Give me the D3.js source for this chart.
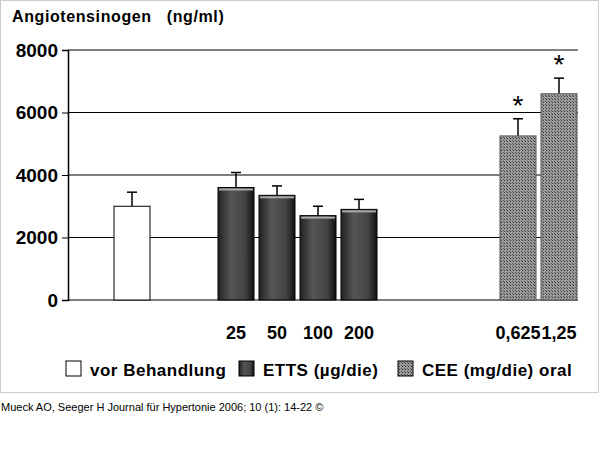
<!DOCTYPE html><html><head><meta charset="utf-8"><script src="https://cdn.jsdelivr.net/npm/d3@7"></script>
<style>body{margin:0;background:#fff}svg{font-family:Arial,"Liberation Sans",sans-serif}</style></head><body><svg width="600" height="454"></svg>
<script>
const categories=["vor","25","50","100","200","0,625","1,25"];
const groups=["vor","etts","etts","etts","etts","cee","cee"];
const values=[3000,3600,3350,2700,2900,5250,6600];
const errors=[450,480,300,300,320,550,500];
const stars=[false,false,false,false,false,true,true];
const xLabels=["","25","50","100","200","0,625","1,25"];
const yTicks=[0,2000,4000,6000,8000];
const legendLabels=["vor Behandlung","ETTS (µg/die)","CEE (mg/die) oral"];

const svg=d3.select("svg");
const defs=svg.append("defs");
const g1=defs.append("linearGradient").attr("id","etts");
[[0,"#222"],[0.35,"#555"],[0.75,"#444"],[1,"#111"]].forEach(s=>g1.append("stop").attr("offset",s[0]).attr("stop-color",s[1]));
const p=defs.append("pattern").attr("id","cee").attr("width",3).attr("height",3).attr("patternUnits","userSpaceOnUse");
p.append("rect").attr("width",3).attr("height",3).attr("fill","#9a9a9a");
p.append("rect").attr("width",1).attr("height",1).attr("fill","#333");
p.append("rect").attr("x",2).attr("y",2).attr("width",1).attr("height",1).attr("fill","#555");

svg.append("rect").attr("x",0.5).attr("y",0.5).attr("width",598).attr("height",392).attr("fill","none").attr("stroke","#ccc");

const y=d3.scaleLinear().domain([0,8000]).range([300,50]);
const xPos=[114,218,259,300,341,500,541];
const x=d3.scaleOrdinal().domain(categories).range(xPos);
const bw=36;

yTicks.forEach(t=>{
  svg.append("line").attr("x1",68).attr("x2",578).attr("y1",y(t)).attr("y2",y(t)).attr("stroke","#000").attr("stroke-width",1.2);
});
const ax=svg.append("g").attr("transform","translate(68,0)").call(d3.axisLeft(y).tickValues(yTicks).tickSize(6).tickFormat(d3.format("d")));
ax.select(".domain").attr("stroke-width",1.5);
ax.selectAll("text").attr("font-size",19).attr("font-weight","bold").attr("fill","#000").attr("x",-10);

svg.append("text").attr("x",12).attr("y",22).attr("font-size",16).attr("font-weight","bold").attr("letter-spacing",0.6).attr("xml:space","preserve").text("Angiotensinogen   (ng/ml)");

const fills={vor:"#fff",etts:"url(#etts)",cee:"url(#cee)"};
categories.forEach((c,i)=>{
  const x0=x(c);
  const top=y(values[i]+errors[i]);
  svg.append("line").attr("x1",x0+bw/2).attr("x2",x0+bw/2).attr("y1",y(values[i])).attr("y2",top).attr("stroke","#000").attr("stroke-width",1.5);
  svg.append("line").attr("x1",x0+bw/2-5).attr("x2",x0+bw/2+5).attr("y1",top).attr("y2",top).attr("stroke","#000").attr("stroke-width",1.5);
  svg.append("rect").attr("x",x0).attr("y",y(values[i])).attr("width",bw).attr("height",y(0)-y(values[i]))
    .attr("fill",fills[groups[i]]).attr("stroke",groups[i]=="cee"?"#555":"#000").attr("stroke-width",1);
  if(groups[i]=="etts") svg.append("rect").attr("x",x0+1).attr("y",y(values[i])+1).attr("width",bw-2).attr("height",2).attr("fill","#aaa");
  if(stars[i]) svg.append("text").attr("x",x0+bw/2).attr("y",top-4).attr("text-anchor","middle").attr("font-size",28).text("*");
  svg.append("text").attr("x",x0+bw/2).attr("y",339).attr("text-anchor","middle").attr("font-size",18).attr("font-weight","bold").text(xLabels[i]);
});

const lx=[66,239,398];
legendLabels.forEach((l,i)=>{
  svg.append("rect").attr("x",lx[i]).attr("y",361).attr("width",15).attr("height",15).attr("fill",fills[["vor","etts","cee"][i]]).attr("stroke","#000");
  svg.append("text").attr("x",lx[i]+24).attr("y",376).attr("font-size",17).attr("font-weight","bold").attr("letter-spacing",0.5).text(l);
});
svg.append("text").attr("x",1).attr("y",411).attr("font-size",11).text("Mueck AO, Seeger H Journal für Hypertonie 2006; 10 (1): 14-22 ©");
</script></body></html>
